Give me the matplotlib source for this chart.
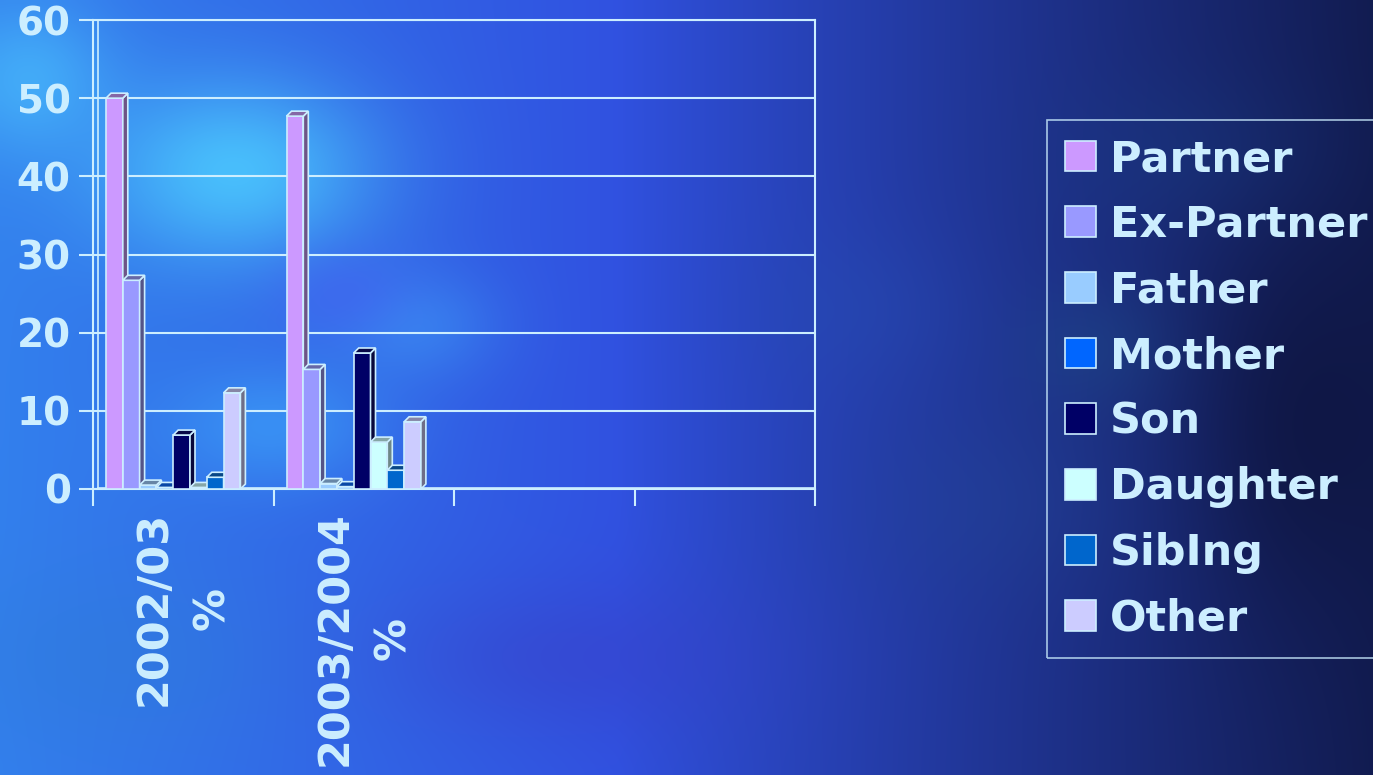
import numpy as np
import matplotlib
matplotlib.use("Agg")
import matplotlib.pyplot as plt
from matplotlib.patches import Polygon, Patch

# ---- data ----
categories = ["2002/03\n%", "2003/2004\n%", "", ""]
series = ["Partner", "Ex-Partner", "Father", "Mother", "Son", "Daughter", "SibIng", "Other"]
values_2002 = [50, 26.7, 0.5, 0.2, 6.9, 0.2, 1.5, 12.3]
values_2003 = [47.7, 15.3, 0.7, 0.3, 17.4, 6.0, 2.4, 8.6]
colors = ["#cc99ff", "#9999ff", "#99ccff", "#0066ff", "#000066", "#ccffff", "#0066cc", "#ccccff"]
yticks = [0, 10, 20, 30, 40, 50, 60]

TXT = "#cceeff"
W, H = 1373, 775
fig = plt.figure(figsize=(W / 100, H / 100), dpi=100)

# ---- background (decorative, deterministic) ----
bg = fig.add_axes([0, 0, 1, 1], zorder=-10)
ny, nx = 200, 360
X, Y = np.meshgrid(np.linspace(0, 1, nx), np.linspace(0, 1, ny))
def lerp(a, b, t):
    return a + (b - a) * t
c_left = np.array([0.20, 0.50, 0.93])
c_mid = np.array([0.19, 0.32, 0.88])
c_right = np.array([0.07, 0.11, 0.32])
t1 = np.clip(X / 0.45, 0, 1)[..., None]
t2 = np.clip((X - 0.45) / 0.55, 0, 1)[..., None]
img = np.where(X[..., None] < 0.45, lerp(c_left, c_mid, t1), lerp(c_mid, c_right, t2 ** 0.9))
def blob(cx, cy, sx, sy, col, a):
    g = np.exp(-(((X - cx) / sx) ** 2 + ((Y - cy) / sy) ** 2))[..., None] * a
    return g, np.array(col)
blobs = [
    (0.17, 0.22, 0.10, 0.12, (0.30, 0.80, 1.00), 0.85),
    (0.02, 0.10, 0.06, 0.10, (0.30, 0.78, 1.00), 0.6),
    (0.20, 0.55, 0.08, 0.08, (0.25, 0.70, 1.00), 0.5),
    (0.30, 0.42, 0.06, 0.07, (0.25, 0.65, 0.98), 0.45),
    (0.25, 0.38, 0.05, 0.06, (0.28, 0.35, 0.95), 0.4),
    (0.42, 0.85, 0.14, 0.10, (0.22, 0.25, 0.78), 0.5),
    (0.08, 0.85, 0.12, 0.12, (0.18, 0.48, 0.85), 0.5),
    (0.62, 0.40, 0.08, 0.10, (0.15, 0.30, 0.70), 0.4),
    (0.72, 0.65, 0.10, 0.12, (0.14, 0.28, 0.60), 0.35),
    (0.86, 0.20, 0.10, 0.10, (0.10, 0.24, 0.52), 0.35),
    (0.80, 0.45, 0.06, 0.08, (0.12, 0.32, 0.55), 0.35),
    (0.95, 0.55, 0.08, 0.25, (0.05, 0.07, 0.22), 0.6),
]
for cx, cy, sx, sy, col, a in blobs:
    g, c = blob(cx, cy, sx, sy, col, a)
    img = img * (1 - g) + c * g
img = np.clip(img, 0, 1)
bg.imshow(img, aspect="auto", extent=[0, 1, 0, 1], origin="upper", interpolation="bicubic")
bg.set_axis_off()

# ---- main axes ----
left, right, top, bottom = 93, 815, 20, 489
ax = fig.add_axes([left / W, 1 - bottom / H, (right - left) / W, (bottom - top) / H])
ax.set_facecolor("none")
ax.set_xlim(-0.5, 3.5)
ax.set_ylim(0, 60)

slot_px = (right - left) / 4
dx = 5 / slot_px
dy = 5 * 60 / (bottom - top)

ax.set_yticks(yticks)
ax.yaxis.grid(True, color=TXT, lw=1.5, zorder=0)
ax.set_axisbelow(True)
for s in ["left", "right", "top", "bottom"]:
    ax.spines[s].set_color(TXT)
    ax.spines[s].set_linewidth(1.5)
ax.set_xticks([-0.5, 0.5, 1.5, 2.5, 3.5])
ax.set_xticklabels([])
ax.set_xticks([0, 1, 2, 3], minor=True)
ax.set_xticklabels(categories, minor=True, rotation=90, fontsize=31, fontweight="bold",
                   color=TXT, va="top", ha="center", multialignment="center",
                   family="DejaVu Sans", linespacing=1.5)
ax.tick_params(axis="x", which="minor", length=0, pad=16)
ax.tick_params(axis="x", which="major", length=12, width=1.5, color=TXT, direction="out")
ax.tick_params(axis="y", length=10, width=1.5, color=TXT, pad=6)
for lab in ax.get_yticklabels():
    lab.set_fontsize(28)
    lab.set_fontweight("bold")
    lab.set_color(TXT)
    lab.set_family("DejaVu Sans")

# back wall lines
ax.plot([-0.5 + dx, -0.5 + dx], [dy * 0.3, 60], color=TXT, lw=1.2, zorder=1)
ax.plot([-0.5 + dx, 3.5], [dy * 0.3, dy * 0.3], color=TXT, lw=1.2, zorder=1)

bar_w = 16.8 / slot_px
start = 13 / slot_px


def shade(c, f):
    rgb = np.array(matplotlib.colors.to_rgb(c))
    return tuple(np.clip(rgb * f + 0.03, 0, 1))


for ci, vals in enumerate([values_2002, values_2003]):
    for i, (v, c) in enumerate(zip(vals, colors)):
        x0 = ci - 0.5 + start + i * bar_w
        x1 = x0 + bar_w
        z = 3 + i * 0.01
        ax.bar(x0, v, width=bar_w, align="edge", color=c, edgecolor=TXT, lw=1.2, zorder=z)
        side = Polygon([(x1, 0), (x1 + dx, dy), (x1 + dx, v + dy), (x1, v)], closed=True,
                       facecolor=shade(c, 0.5), edgecolor=TXT, lw=1.2, zorder=z)
        topf = Polygon([(x0, v), (x0 + dx, v + dy), (x1 + dx, v + dy), (x1, v)], closed=True,
                       facecolor=shade(c, 0.62), edgecolor=TXT, lw=1.2, zorder=z)
        ax.add_patch(side)
        ax.add_patch(topf)

# ---- legend ----
handles = [Patch(facecolor=c, edgecolor=TXT, lw=1.2) for c in colors]
leg = fig.legend(handles, series, loc="upper left", bbox_to_anchor=(1047 / W, 1 - 120 / H),
                 frameon=True, fancybox=False, handlelength=0.72, handleheight=0.72,
                 handletextpad=0.33, labelspacing=0.55, borderpad=0.42, borderaxespad=0,
                 prop={"family": "DejaVu Sans", "weight": "bold", "size": 31})
leg.get_frame().set_facecolor("none")
leg.get_frame().set_edgecolor(TXT)
leg.get_frame().set_linewidth(1.2)
for t in leg.get_texts():
    t.set_color(TXT)

fig.savefig("out.png", dpi=100)
